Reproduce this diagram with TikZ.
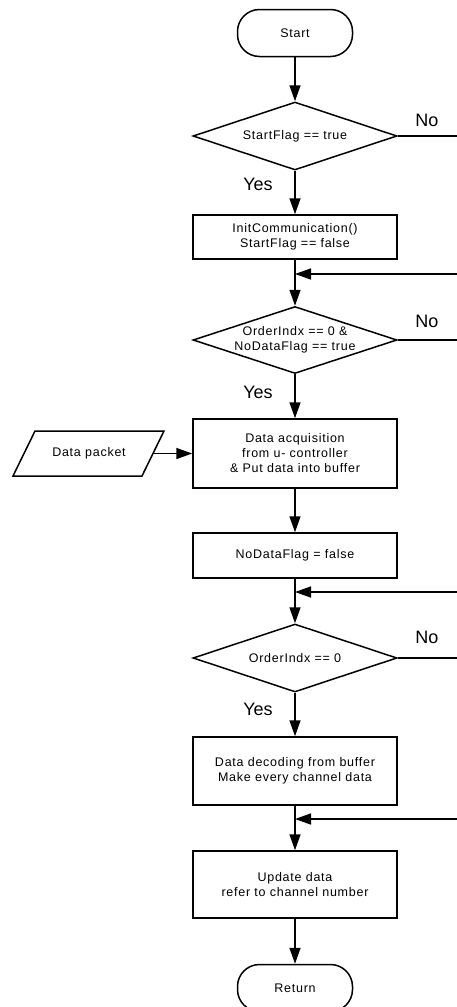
\documentclass[tikz,border=0pt]{standalone}
\usepackage{fontspec}
\setmainfont{Liberation Sans}[LetterSpace=6]
\newfontfamily\labelfont{Liberation Sans}
\usetikzlibrary{arrows.meta,shapes.geometric}
\begin{document}
\begin{tikzpicture}[x=1pt,y=-1pt,
  line width=1.5pt,
  flow/.style={-{Triangle[length=16pt,width=11pt]}},
  boxtext/.style={font=\fontsize{12.5}{15}\selectfont},
  term/.style={draw,rounded corners=22pt,minimum width=115pt,minimum height=47pt,boxtext,inner sep=0pt},
  proc/.style={draw,minimum width=204pt,align=center,boxtext,inner sep=0pt},
  decide/.style={draw,diamond,aspect=3,minimum width=204pt,minimum height=68pt,align=center,inner sep=0pt,boxtext},
  answer/.style={font=\labelfont\fontsize{18}{18}\selectfont,inner sep=0pt}]
\useasboundingbox (0,0) rectangle (457,1007);
\clip (0,0) rectangle (457,1007);

% nodes on the main axis
\node[term] (start) at (295,33) {Start};
\node[decide] (d1) at (295,136) {StartFlag == true};
\node[proc,minimum height=44pt] (init) at (295,237) {InitCommunication()\\StartFlag == false};
\node[decide,minimum height=66pt] (d2) at (295,340) {OrderIndx == 0 \&\\NoDataFlag == true};
\node[proc,minimum height=69pt] (acq) at (295,453.5) {Data acquisition\\from u- controller\\\& Put data into buffer};
\node[proc,minimum height=45pt] (nodata) at (295,555.5) {NoDataFlag = false};
\node[decide] (d3) at (295,658) {OrderIndx == 0};
\node[proc,minimum height=68pt] (decode) at (295,771) {Data decoding from buffer\\Make every channel data};
\node[proc,minimum height=67pt] (update) at (295,884.5) {Update data\\refer to channel number};
\node[term] (ret) at (295,988) {Return};

% input data: a parallelogram with its label
\draw (35,431) -- (164,431) -- (142,476) -- (13,476) -- cycle;
\node[boxtext,inner sep=0pt] (packet) at (89,453.5) {Data packet};
\coordinate (packetout) at (153,453.5);

% junction points where the loops rejoin the axis
\coordinate (j1) at (295,274);
\coordinate (j2) at (295,592);
\coordinate (j3) at (295,819);
\coordinate (r1) at (457,136);
\coordinate (r2) at (457,274);
\coordinate (r3) at (457,340);
\coordinate (r4) at (457,592);
\coordinate (r5) at (457,658);
\coordinate (r6) at (457,819);

% main flow
\draw[flow] (start) -- (d1);
\draw[flow] (d1) -- (init);
\draw (init) -- (j1);
\draw[flow] (j1) -- (d2);
\draw[flow] (d2) -- (acq);
\draw[flow] (acq) -- (nodata);
\draw (nodata) -- (j2);
\draw[flow] (j2) -- (d3);
\draw[flow] (d3) -- (decode);
\draw (decode) -- (j3);
\draw[flow] (j3) -- (update);
\draw[flow] (update) -- (ret);
\draw[flow] (packetout) -- (acq.west);

% branches leaving and rejoining on the right
\draw (d1.east) -- (r1);
\draw (d2.east) -- (r3);
\draw (d3.east) -- (r5);
\draw[flow] (r2) -- (j1);
\draw[flow] (r4) -- (j2);
\draw[flow] (r6) -- (j3);

% branch labels
\node[answer] at (427,120) {No};
\node[answer] at (427,321) {No};
\node[answer] at (427,637) {No};
\node[answer] at (258,184) {Yes};
\node[answer] at (258,392) {Yes};
\node[answer] at (258,709) {Yes};
\end{tikzpicture}
\end{document}
